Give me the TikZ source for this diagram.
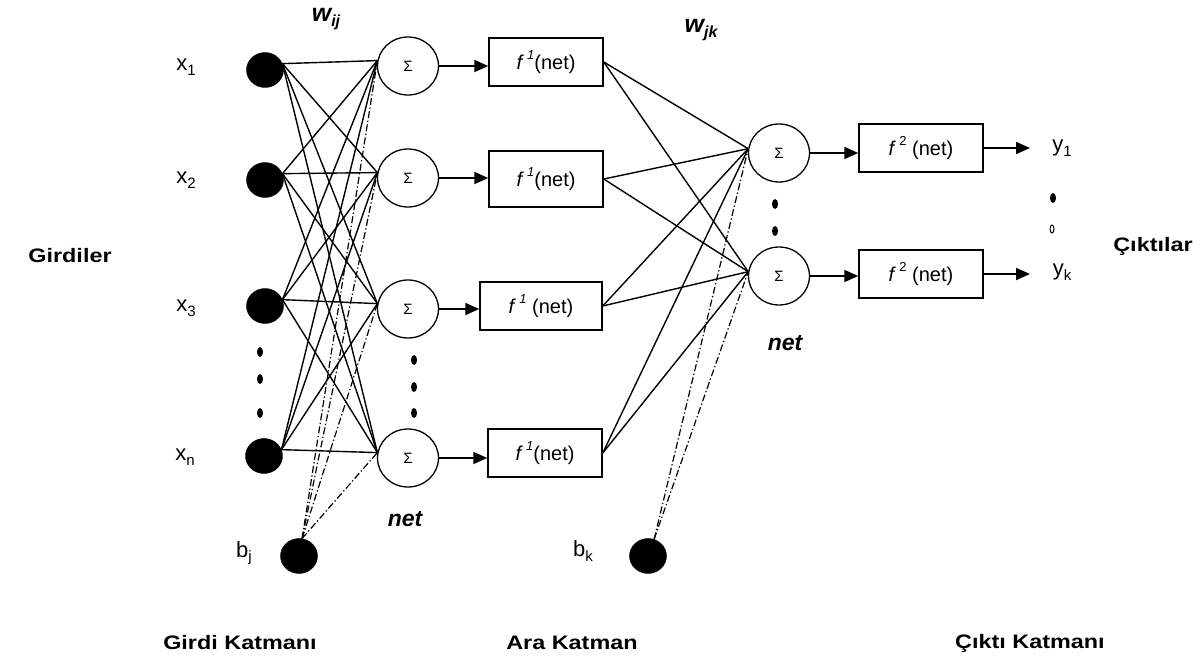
\documentclass[tikz,border=0pt]{standalone}
\usepackage{fontspec}
\setmainfont{Liberation Sans}
\newfontfamily\labfont{Liberation Sans}[FakeStretch=1.2]
\usetikzlibrary{arrows.meta,shapes.geometric}
\newcommand\sbs[2][15]{\raisebox{-0.22em}{\fontsize{#1}{#1}\selectfont #2}}
\newcommand\sps[2][13]{\raisebox{0.5em}{\fontsize{#1}{#1}\selectfont #2}}
\begin{document}
\begin{tikzpicture}[x=1pt,y=-1pt,
 inp/.style={ellipse,fill=black,draw=black,minimum width=37pt,minimum height=35pt,inner sep=0pt},
 sumn/.style={ellipse,draw=black,line width=1.3pt,minimum width=61pt,minimum height=58pt,inner sep=0pt,font=\fontsize{15}{15}\selectfont},
 fbox/.style={rectangle,draw=black,line width=1.5pt,minimum width=114pt,minimum height=48pt,inner sep=0pt,font=\fontsize{20}{20}\selectfont},
 conn/.style={line width=1.4pt},
 bias/.style={line width=1.2pt,dash pattern=on 7pt off 2.5pt on 1.3pt off 2.5pt},
 arr/.style={line width=2pt,-{Triangle[length=14pt,width=12pt]}},
 lbl/.style={font=\fontsize{22}{22}\selectfont},
 blbl/.style={font=\labfont\bfseries\fontsize{19.5}{19.5}\selectfont},
 wlbl/.style={font=\bfseries\itshape\fontsize{25}{25}\selectfont},
 nlbl/.style={font=\bfseries\itshape\fontsize{23}{23}\selectfont},
 dotn/.style={ellipse,fill=black,minimum width=6pt,minimum height=10pt,inner sep=0pt},
]
\useasboundingbox (0,0) rectangle (1204,666);
% input layer
\node[inp] (x1) at (265,70) {};
\node[inp] (x2) at (265,180) {};
\node[inp] (x3) at (265,306) {};
\node[inp] (xn) at (264,456) {};
\node[inp] (bj) at (299,556) {};
% first summation layer
\node[sumn] (s1) at (408,66) {Σ};
\node[sumn] (s2) at (408,178) {Σ};
\node[sumn] (s3) at (408,309) {Σ};
\node[sumn] (s4) at (408,458) {Σ};
% activation boxes
\node[fbox] (f1) at (546,62) {\textit{f}\,\sps{\itshape 1}(net)};
\node[fbox,minimum height=56pt] (f2) at (546,179) {\textit{f}\,\sps{\itshape 1}(net)};
\node[fbox,minimum width=122pt] (f3) at (541,306) {\textit{f}\,\sps{\itshape 1} (net)};
\node[fbox] (f4) at (545,453) {\textit{f}\,\sps{\itshape 1}(net)};
% second layer
\node[sumn] (t1) at (779,153) {Σ};
\node[sumn] (t2) at (779,276) {Σ};
\node[inp] (bk) at (648,556) {};
\node[fbox,minimum width=124pt] (g1) at (921,148) {\textit{f}\,\sps{2} (net)};
\node[fbox,minimum width=124pt] (g2) at (921,274) {\textit{f}\,\sps{2} (net)};
\coordinate (o1) at (1030,148);
\coordinate (o2) at (1030,274);
% connections
\foreach \a in {x1,x2,x3,xn}
  \foreach \b in {s1,s2,s3,s4}
    \draw[conn] (\a.20) -- (\b.170);
\foreach \b in {s1,s2,s3,s4}
  \draw[bias] (bj.80) -- (\b.170);
\foreach \a in {f1,f2,f3,f4}
  \foreach \b in {t1,t2}
    \draw[conn] (\a.east) -- (\b.172);
\foreach \b in {t1,t2}
  \draw[bias] (bk.70) -- (\b.172);
% arrows
\foreach \s/\f in {s1/f1,s2/f2,s3/f3,s4/f4,t1/g1,t2/g2}
  \draw[arr] (\s.east) -- (\s.east -| \f.west);
\draw[arr] (g1.east) -- (o1);
\draw[arr] (g2.east) -- (o2);
% dots
\node[dotn] (d1) at (260,352) {};
\node[dotn] (d2) at (260,379) {};
\node[dotn] (d3) at (260,413) {};
\node[dotn] (e1) at (414,360) {};
\node[dotn] (e2) at (414,387) {};
\node[dotn] (e3) at (414,413) {};
\node[dotn] (h1) at (775,204) {};
\node[dotn] (h2) at (775,231) {};
\node[dotn] (k1) at (1053,198) {};
\node[ellipse,draw=black,line width=1pt,minimum width=4pt,minimum height=8pt,inner sep=0pt] (k2) at (1052,229) {};
% labels
\node[lbl] (lx1) at (186,67) {x\sbs{1}};
\node[lbl] (lx2) at (186,180) {x\sbs{2}};
\node[lbl] (lx3) at (186,308) {x\sbs{3}};
\node[lbl] (lxn) at (185,457) {x\sbs{n}};
\node[lbl] (lbj) at (244,553) {b\sbs{j}};
\node[lbl] (lbk) at (583,551) {b\sbs{k}};
\node[lbl] (ly1) at (1062,148) {y\sbs{1}};
\node[lbl] (lyk) at (1062,272) {y\sbs{k}};
\node[wlbl] (wij) at (326,19) {w\sbs[16]{ij}};
\node[wlbl] (wjk) at (701,30) {w\sbs[16]{jk}};
\node[nlbl] (net1) at (405,519) {net};
\node[nlbl] (net2) at (785,343) {net};
\node[blbl] (gir) at (70,256) {Girdiler};
\node[blbl] (cik) at (1153,246) {Çıktılar};
\node[blbl] (gk) at (240,643) {Girdi Katmanı};
\node[blbl] (ak) at (572,643) {Ara Katman};
\node[blbl] (ck) at (1030,643) {Çıktı Katmanı};
\end{tikzpicture}
\end{document}
